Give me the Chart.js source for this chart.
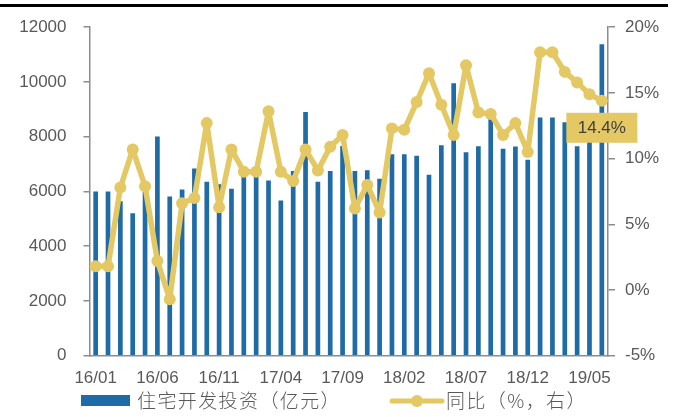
<!DOCTYPE html>
<html><head><meta charset="utf-8">
<script src="https://cdn.jsdelivr.net/npm/chart.js@4/dist/chart.umd.min.js"></script>
<style>html,body{margin:0;padding:0;background:#fff;}#wrap{position:relative;width:682px;height:417px;}canvas{display:block;}</style>
</head><body>
<div id="wrap"><canvas id="c" width="682" height="417"></canvas></div>
<script>
const months = ["16/01","16/02","16/03","16/04","16/05","16/06","16/07","16/08","16/09","16/10","16/11","16/12",
"17/01","17/02","17/03","17/04","17/05","17/06","17/07","17/08","17/09","17/10","17/11","17/12",
"18/01","18/02","18/03","18/04","18/05","18/06","18/07","18/08","18/09","18/10","18/11","18/12",
"19/01","19/02","19/03","19/04","19/05","19/06"];
const investment = [6000,6000,5640,5200,6000,8010,5820,6070,6840,6350,6260,6100,
6620,6620,6400,5670,6750,8900,6350,6750,7660,6750,6770,6460,
7360,7360,7300,6610,7690,9950,7430,7650,8800,7560,7640,7160,
8700,8700,8530,7650,8700,11380];
const yoy = [1.8,1.8,7.8,10.7,7.9,2.2,-0.7,6.6,7.0,12.7,6.3,10.7,
9.0,9.0,13.6,9.0,8.3,10.7,9.1,10.9,11.8,6.2,8.0,5.9,
12.3,12.2,14.3,16.5,14.1,11.8,17.1,13.5,13.4,11.8,12.7,10.5,
18.1,18.1,16.6,15.8,14.9,14.4];
const leftTicks = [0,2000,4000,6000,8000,10000,12000];
const rightTicks = [-5,0,5,10,15,20];
const barLabel = "住宅开发投资（亿元）";
const lineLabel = "同比（%，右）";

const BLUE = "#1F6BA6", GOLD = "#E3C864", AXIS = "#8C8C8C", TXT = "#595959";
const tickFont = {family: "'Liberation Sans', Arial, sans-serif", size: 17};

const extras = {
  id: "extras",
  afterDatasetsDraw(chart) {
    const ctx = chart.ctx;
    ctx.save();
    ctx.fillStyle = "#000";
    ctx.fillRect(0, 4, 668, 3);
    const meta = chart.getDatasetMeta(1);
    const i = yoy.length - 1;
    const pt = meta.data[i];
    const w = 71, h = 30;
    const bx = pt.x - w/2, by = pt.y + 12;
    ctx.fillStyle = GOLD;
    ctx.fillRect(bx, by, w, h);
    ctx.fillStyle = "#404040";
    ctx.font = "17px 'Liberation Sans', Arial, sans-serif";
    ctx.textAlign = "center"; ctx.textBaseline = "middle";
    ctx.fillText(yoy[i].toFixed(1) + "%", pt.x, by + h/2 + 1);
    const ly = 401;
    ctx.fillStyle = BLUE;
    ctx.fillRect(81, ly - 6, 49, 11);
    ctx.fillStyle = TXT;
    ctx.font = "300 19px 'Noto Sans CJK SC', sans-serif";
    ctx.textAlign = "left"; ctx.textBaseline = "middle";
    try { ctx.letterSpacing = "1.4px"; } catch (e) {}
    ctx.fillText(barLabel, 137, ly);
    ctx.strokeStyle = GOLD; ctx.lineWidth = 5; ctx.lineCap = "round";
    ctx.beginPath(); ctx.moveTo(392, ly); ctx.lineTo(442, ly); ctx.stroke();
    ctx.fillStyle = GOLD;
    ctx.beginPath(); ctx.arc(417, ly, 6, 0, Math.PI*2); ctx.fill();
    ctx.fillStyle = TXT;
    ctx.fillText(lineLabel, 446, ly);
    ctx.restore();
  }
};

new Chart(document.getElementById("c"), {
  data: {
    labels: months,
    datasets: [
      {type: "bar", label: barLabel, data: investment, backgroundColor: BLUE, yAxisID: "y",
       barPercentage: 0.38, categoryPercentage: 1, order: 2},
      {type: "line", label: lineLabel, data: yoy, yAxisID: "y1", borderColor: GOLD, backgroundColor: GOLD,
       borderWidth: 5.5, pointRadius: 6, pointBackgroundColor: GOLD, pointBorderWidth: 0,
       tension: 0, borderJoinStyle: "round", borderCapStyle: "round", order: 1}
    ]
  },
  options: {
    responsive: false, animation: false, devicePixelRatio: 1,
    layout: {padding: {top: 24, left: 0, right: 0, bottom: 0}},
    plugins: {legend: {display: false}, tooltip: {enabled: false}},
    scales: {
      x: {
        grid: {display: false, drawTicks: false},
        border: {color: AXIS, width: 1.5},
        ticks: {autoSkip: false, maxRotation: 0, padding: 12, color: TXT, font: tickFont,
          callback: (v, i) => i % 5 === 0 ? months[i] : ""},
        afterFit: s => { s.height = 61.3; }
      },
      y: {
        position: "left", min: 0, max: 12000,
        afterBuildTicks: s => { s.ticks = leftTicks.map(v => ({value: v})); },
        grid: {drawOnChartArea: false, drawTicks: true, tickLength: 6, color: AXIS, lineWidth: 1.5},
        border: {color: AXIS, width: 1.5},
        ticks: {padding: 17, color: TXT, font: tickFont, callback: v => String(v)},
        afterFit: s => { s.width = 89.5; }
      },
      y1: {
        position: "right", min: -5, max: 20,
        afterBuildTicks: s => { s.ticks = rightTicks.map(v => ({value: v})); },
        grid: {drawOnChartArea: false, drawTicks: true, tickLength: 7, color: AXIS, lineWidth: 1.5},
        border: {color: AXIS, width: 1.5},
        ticks: {padding: 10, color: TXT, font: tickFont, callback: v => v + "%"},
        afterFit: s => { s.width = 74; }
      }
    }
  },
  plugins: [extras]
});
</script>
</body></html>
